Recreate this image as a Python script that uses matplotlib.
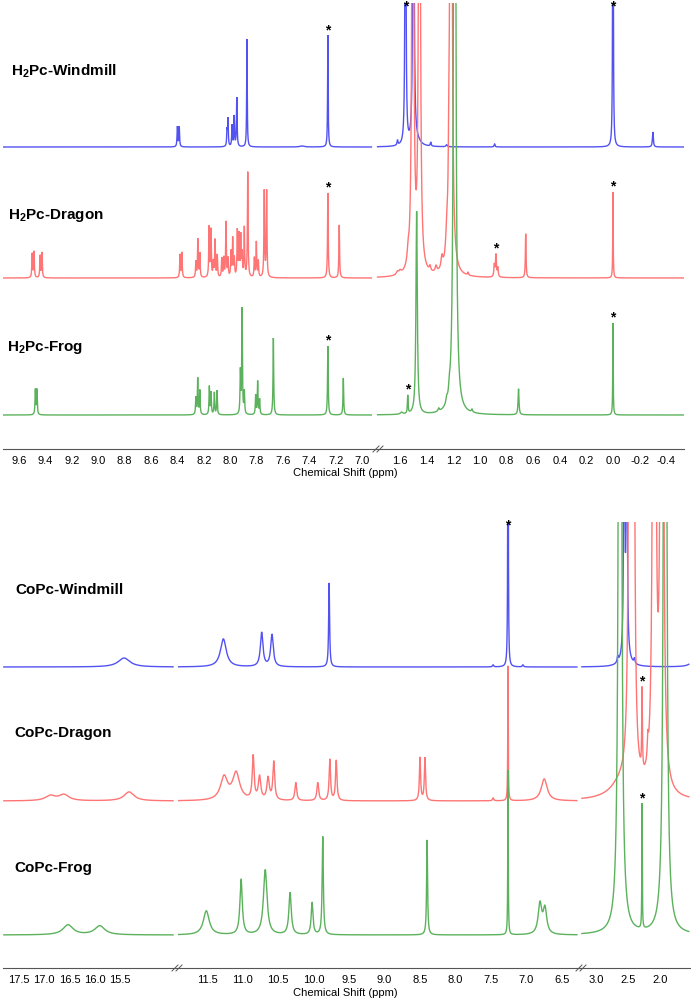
import numpy as np
import matplotlib
matplotlib.use("Agg")
import matplotlib.pyplot as plt
from matplotlib.lines import Line2D

plt.rcParams['font.family'] = ['Liberation Sans', 'DejaVu Sans']
plt.rcParams['mathtext.fontset'] = 'custom'
plt.rcParams['mathtext.rm'] = 'Liberation Sans'
plt.rcParams['mathtext.bf'] = 'Liberation Sans:bold'

# ================= DATA =================
# Top panel: H2Pc spectra, peaks (ppm, height, half-width)
h2_windmill_ppm = [8.400, 8.386, 8.024, 8.017, 7.986, 7.970, 7.950, 7.873, 7.456, 7.260,
                   1.62, 1.56, 1.50, 1.47, 1.37, 1.25, 0.89, 0.00, -0.30]
h2_windmill_h = [20, 20, 15, 27, 21, 30, 49, 108, 1, 112,
                 5, 600, 600, 4, 4, 2, 3, 600, 15]
h2_windmill_w = [0.003, 0.003, 0.003, 0.003, 0.003, 0.003, 0.003, 0.0025, 0.02, 0.0025,
                 0.004, 0.003, 0.004, 0.03, 0.004, 0.006, 0.004, 0.002, 0.004]

h2_dragon_ppm = [9.500, 9.486, 9.440, 9.426, 8.380, 8.366, 8.260, 8.245, 8.230, 8.160, 8.146,
                 8.128, 8.115, 8.098, 8.064, 8.049, 8.032, 8.017, 7.994, 7.981, 7.969,
                 7.946, 7.933, 7.920, 7.910, 7.893, 7.867, 7.817, 7.802, 7.787, 7.742, 7.724,
                 7.260, 7.174,
                 1.62, 1.60, 1.54, 1.505, 1.455, 1.376, 1.33, 1.286, 1.25, 1.235, 1.218,
                 1.09, 0.892, 0.880, 0.866, 0.656, 0.00]
h2_dragon_h = [24, 26, 22, 25, 23, 25, 16, 38, 24, 50, 47,
               15, 37, 22, 19, 19, 55, 18, 25, 38, 18,
               46, 41, 40, 22, 49, 105, 19, 35, 16, 86, 86,
               85, 53,
               3, 3, 12, 800, 800, 5, 6, 12, 20, 35, 1200,
               3, 12, 22, 9, 44, 86]
h2_dragon_w = [0.003] * 34 + [0.01, 0.01, 0.008, 0.006, 0.006, 0.006, 0.008, 0.008, 0.008,
                              0.004, 0.006, 0.004, 0.004, 0.004, 0.004, 0.003, 0.002]

h2_frog_ppm = [9.476, 9.464, 8.260, 8.246, 8.230, 8.158, 8.145, 8.120, 8.100,
               7.923, 7.910, 7.893, 7.807, 7.792, 7.777, 7.673, 7.260, 7.143,
               1.59, 1.543, 1.476, 1.31, 1.25, 1.23, 1.19, 1.06, 0.71, 0.00]
h2_frog_h = [25, 25, 17, 36, 24, 28, 22, 22, 24,
             42, 105, 22, 19, 33, 15, 77, 69, 37,
             2, 18, 203, 3, 5, 8, 1500, 3, 26, 92]
h2_frog_w = [0.003] * 18 + [0.01, 0.003, 0.006, 0.006, 0.006, 0.005, 0.006, 0.005, 0.004, 0.002]

# Bottom panel: CoPc spectra
co_windmill_ppm = [15.42, 11.27, 10.73, 10.585, 9.78, 7.47, 7.26, 7.05,
                   2.66, 2.56, 2.52, 2.54, 2.40, 1.45]
co_windmill_h = [9, 28, 34, 32, 84, 2, 400, 2,
                 6, 800, 800, 20, 5, 10]
co_windmill_w = [0.14, 0.05, 0.022, 0.022, 0.008, 0.01, 0.004, 0.01,
                 0.01, 0.005, 0.005, 0.05, 0.01, 0.06]

co_dragon_ppm = [16.88, 16.61, 15.32, 11.26, 11.09, 10.85, 10.76, 10.64, 10.56, 10.25,
                 9.94, 9.77, 9.68, 8.50, 8.43, 7.47, 7.26, 6.75,
                 2.47, 2.42, 2.28, 2.19, 2.09, 1.97, 2.60]
co_dragon_h = [5, 6, 9, 23, 27, 43, 23, 22, 38, 18,
               18, 41, 40, 43, 43, 3, 135, 22,
               1500, 1500, 80, 20, 2400, 2400, 15]
co_dragon_w = [0.12, 0.12, 0.12, 0.06, 0.06, 0.015, 0.02, 0.02, 0.015, 0.015,
               0.015, 0.012, 0.012, 0.01, 0.01, 0.01, 0.004, 0.05,
               0.012, 0.012, 0.006, 0.01, 0.012, 0.012, 0.2]

co_frog_ppm = [16.53, 15.90, 11.51, 11.02, 10.68, 10.33, 10.02, 9.87, 8.40, 7.26, 6.81, 6.74,
               2.625, 2.28, 1.92]
co_frog_h = [10, 9, 24, 55, 65, 42, 32, 98, 95, 165, 30, 25,
             3000, 125, 3000]
co_frog_w = [0.12, 0.12, 0.05, 0.02, 0.03, 0.02, 0.015, 0.01, 0.008, 0.004, 0.03, 0.03,
             0.012, 0.004, 0.012]

top_ticks_left = ['9.6', '9.4', '9.2', '9.0', '8.8', '8.6', '8.4', '8.2', '8.0', '7.8',
                  '7.6', '7.4', '7.2', '7.0']
top_ticks_right = ['1.6', '1.4', '1.2', '1.0', '0.8', '0.6', '0.4', '0.2', '0.0', '-0.2', '-0.4']
bot_ticks_left = ['17.5', '17.0', '16.5', '16.0', '15.5']
bot_ticks_mid = ['11.5', '11.0', '10.5', '10.0', '9.5', '9.0', '8.5', '8.0', '7.5', '7.0', '6.5']
bot_ticks_right = ['3.0', '2.5', '2.0']

top_names = [r'H$_\mathbf{2}$Pc-Windmill', r'H$_\mathbf{2}$Pc-Dragon', r'H$_\mathbf{2}$Pc-Frog']
bot_names = ['CoPc-Windmill', 'CoPc-Dragon', 'CoPc-Frog']

top_stars = [[7.26, 1.56, 0.00], [7.26, 0.88, 0.00], [7.26, 1.543, 0.00]]
bot_stars = [[7.26], [2.28], [2.28]]

# ================= STYLE / LAYOUT =================
W, H = 691, 1000
colors = ['#5252f2', '#ff7474', '#5cb25c']
tick_font = dict(family=['Liberation Sans Narrow', 'Liberation Sans', 'DejaVu Sans'], size=8)


def rect(x0, y0, x1, y1):
    return [x0 / W, 1 - y1 / H, (x1 - x0) / W, (y1 - y0) / H]


def spectrum(ppm, c, h, w):
    c = np.asarray(c, float); h = np.asarray(h, float); w = np.asarray(w, float)
    d = (ppm[:, None] - c[None, :]) / w[None, :]
    return np.sum(h[None, :] / (1 + d * d), axis=1)


fig = plt.figure(figsize=(W / 100, H / 100), dpi=100)


def make_panel(y0, y1, segs, ticks, spectra, offsets, names, name_pos, stars, xlabel_y, label_x):
    axes = []
    ytop = y1 - y0
    for (x0, x1, pl, pr, dl, dr), tk in zip(segs, ticks):
        ax = fig.add_axes(rect(x0, y0, x1, y1))
        ax.set_xlim(pl, pr)
        ax.set_ylim(0, ytop)
        for s in ['top', 'left', 'right']:
            ax.spines[s].set_visible(False)
        ax.spines['bottom'].set_linewidth(0.8)
        ax.spines['bottom'].set_color('#555555')
        ax.set_yticks([])
        ax.set_xticks([float(t) for t in tk])
        ax.set_xticklabels(tk, **tick_font)
        ax.tick_params(axis='x', length=0, pad=5)
        ax.patch.set_alpha(0)
        grid = np.linspace(dl, dr, 12000)
        for (c, h, w), off, col, st in zip(spectra, offsets, colors, stars):
            y = off + spectrum(grid, c, h, w)
            ax.plot(grid, y, color=col, lw=1.0, solid_joinstyle='miter')
            for sp in st:
                if min(dl, dr) <= sp <= max(dl, dr):
                    top = off + spectrum(np.array([sp]), c, h, w)[0]
                    ty = min(top + 5, ytop - 3)
                    ax.text(sp, ty, '*', ha='center', va='center', fontsize=10,
                            fontweight='bold', color='black')
        axes.append(ax)
    for nm, (nx, ny) in zip(names, name_pos):
        fig.text(nx / W, 1 - ny / H, nm, fontsize=11, fontweight='bold', ha='left', va='center')
    fig.text(label_x / W, 1 - xlabel_y / H, 'Chemical Shift (ppm)', ha='center', va='center', **tick_font)
    return axes


top_segs = [(3, 375, 9.721, 6.903, 9.72, 6.93), (375, 684, 1.789, -0.534, 1.77, -0.53)]
top_spectra = [(h2_windmill_ppm, h2_windmill_h, h2_windmill_w),
               (h2_dragon_ppm, h2_dragon_h, h2_dragon_w),
               (h2_frog_ppm, h2_frog_h, h2_frog_w)]
make_panel(3, 449, top_segs, [top_ticks_left, top_ticks_right], top_spectra,
           [302, 171, 34], top_names, [(11, 71), (8, 215), (7, 347)], top_stars, 473, 345)

bot_segs = [(3, 176, 17.817, 14.391, 17.8, 14.45), (176, 580, 11.937, 6.246, 11.9, 6.29),
            (580, 690, 3.25, 1.531, 3.22, 1.55)]
bot_spectra = [(co_windmill_ppm, co_windmill_h, co_windmill_w),
               (co_dragon_ppm, co_dragon_h, co_dragon_w),
               (co_frog_ppm, co_frog_h, co_frog_w)]
make_panel(522, 968, bot_segs, [bot_ticks_left, bot_ticks_mid, bot_ticks_right], bot_spectra,
           [301, 167, 33], bot_names, [(15, 590), (14, 733), (14, 868)], bot_stars, 993, 345)

# axis break marks
for bx, by in [(378, 449), (177, 968), (581, 968)]:
    for dx in (-2, 2):
        fig.add_artist(Line2D([(bx + dx - 3) / W, (bx + dx + 3) / W],
                              [1 - (by + 3) / H, 1 - (by - 3) / H],
                              color='#555555', lw=0.7))

fig.savefig('out.png', dpi=100)
